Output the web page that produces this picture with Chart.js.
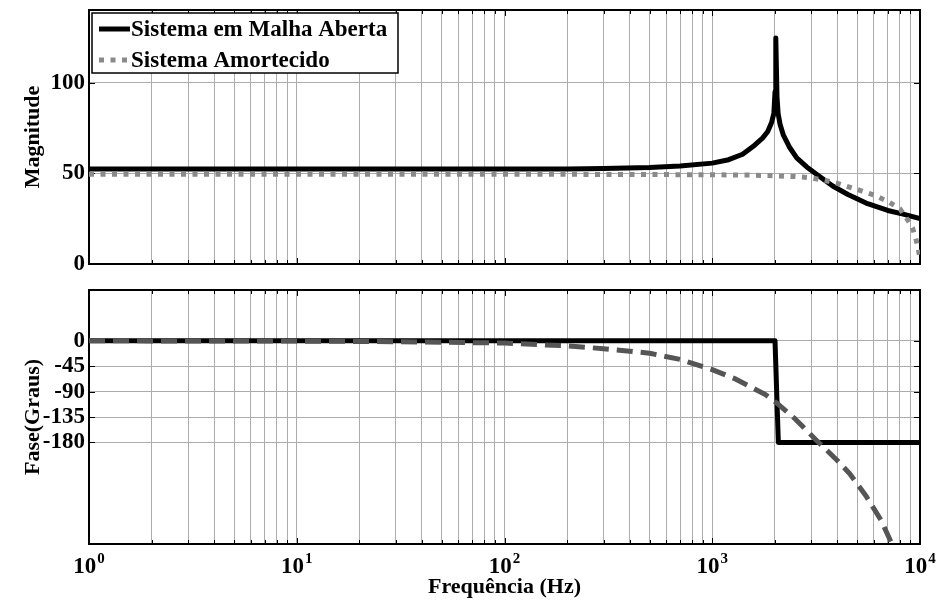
<!DOCTYPE html>
<html>
<head>
<meta charset="utf-8">
<script src="https://cdn.jsdelivr.net/npm/chart.js@4.4.0/dist/chart.umd.min.js"></script>
<style>
  body { margin: 0; background: #fff; }
  canvas { position: absolute; left: 0; }
  #mag { top: 0; }
  #fase { top: 280px; }
</style>
</head>
<body>
<canvas id="mag" width="939" height="276"></canvas>
<canvas id="fase" width="939" height="322"></canvas>
<script>
// magnitude, sistema em malha aberta
const freqMagAberta = [1, 3, 10, 30, 100, 200, 300, 500, 700, 1000, 1200, 1400, 1600, 1750, 1850, 1930, 1980, 2005, 2018, 2027, 2036, 2050, 2075, 2120, 2200, 2350, 2550, 2850, 3200, 3800, 4500, 5500, 7000, 8300, 10000]
const magAberta = [52.4, 52.4, 52.4, 52.3, 52.3, 52.4, 52.6, 53.2, 54.0, 55.6, 57.5, 60.5, 65.5, 69.5, 73, 78, 83, 95, 110, 124.5, 108, 92, 83, 77, 71, 64.5, 58.5, 53.5, 49.2, 43, 38.3, 33.6, 29.5, 27.5, 25]

// magnitude, sistema amortecido
const freqMagAmort = [1, 10, 100, 500, 1000, 1500, 2000, 2500, 3000, 3500, 4000, 5000, 6000, 7000, 8000, 8700, 9200, 9600, 9850, 10000]
const magAmort = [49.5, 49.5, 49.5, 49.3, 49.2, 49, 48.6, 48.2, 47.5, 46, 44.5, 41, 38, 34.5, 30.5, 24.5, 20, 13, 7, 3]

// fase
const freqFaseAberta = [1, 2005, 2080, 10000]
const faseAberta = [0, 0, -180, -180]
const freqFaseAmort = [1, 10, 30, 100, 200, 300, 500, 700, 1000, 1300, 1500, 1800, 2040, 2500, 3170, 4000, 4580, 5500, 6500, 7180, 7500]
const faseAmort = [0, -0.5, -1.5, -4, -9, -14, -22, -33, -51, -68, -80, -95, -110, -138, -176, -212, -235, -275, -318, -353, -368]

const ticksMag = [0, 50, 100]
const ticksFase = [-180, -135, -90, -45, 0]
const decadas = [1, 10, 100, 1000, 10000]

const fonte = "'Liberation Serif', 'Times New Roman', serif"
Chart.defaults.font.family = fonte
Chart.defaults.font.weight = 'bold'
Chart.defaults.color = '#000'

const pontos = (xs, ys) => xs.map((x, i) => ({ x: x, y: ys[i] }))

// linhas de grade em 1..9 x 10^n
const ticksFreq = []
decadas.forEach(d => {
  for (let k = 1; k < 10; k++) if (d * k <= 10000) ticksFreq.push(d * k)
})

// moldura e marcas internas dos eixos
const moldura = {
  id: 'moldura',
  beforeDatasetsDraw(c) {
    const a = c.chartArea, ctx = c.ctx
    ctx.save()
    ctx.strokeStyle = '#000'
    ctx.lineWidth = 1
    ctx.beginPath()
    c.scales.x.ticks.forEach(t => {
      const px = Math.round(c.scales.x.getPixelForValue(t.value)) + 0.5
      const len = decadas.includes(t.value) ? 6 : 4
      ctx.moveTo(px, a.bottom); ctx.lineTo(px, a.bottom - len)
      ctx.moveTo(px, a.top); ctx.lineTo(px, a.top + len)
    })
    c.scales.y.ticks.forEach(t => {
      const py = Math.round(c.scales.y.getPixelForValue(t.value)) + 0.5
      ctx.moveTo(a.left, py); ctx.lineTo(a.left + 6, py)
      ctx.moveTo(a.right, py); ctx.lineTo(a.right - 6, py)
    })
    ctx.stroke()
    ctx.lineWidth = 2
    ctx.strokeRect(a.left, a.top, a.right - a.left, a.bottom - a.top)
    ctx.restore()
  }
}

// rotulos 10^n com expoente elevado
const rotulosDecada = {
  id: 'rotulosDecada',
  afterDraw(c) {
    const ctx = c.ctx, x = c.scales.x
    const base = c.chartArea.bottom + 29
    ctx.save()
    ctx.fillStyle = '#000'
    ctx.textBaseline = 'alphabetic'
    ctx.textAlign = 'left'
    decadas.forEach((v, i) => {
      const px = x.getPixelForValue(v)
      ctx.font = 'bold 23px ' + fonte
      const w1 = ctx.measureText('10').width
      ctx.font = 'bold 15px ' + fonte
      const w2 = ctx.measureText(String(i)).width
      const x0 = px - (w1 + w2 + 1) / 2
      ctx.font = 'bold 23px ' + fonte
      ctx.fillText('10', x0, base)
      ctx.font = 'bold 15px ' + fonte
      ctx.fillText(String(i), x0 + w1 + 1, base - 10)
    })
    ctx.restore()
  }
}

// legenda dentro da area do grafico
const legenda = {
  id: 'legenda',
  afterDraw(c) {
    const ctx = c.ctx
    const x0 = 92, y0 = 13, w = 306, h = 60
    ctx.save()
    ctx.fillStyle = '#fff'
    ctx.fillRect(x0, y0, w, h)
    ctx.strokeStyle = '#000'
    ctx.lineWidth = 1.5
    ctx.strokeRect(x0, y0, w, h)
    ctx.font = 'bold 23px ' + fonte
    ctx.textBaseline = 'middle'
    c.data.datasets.forEach((ds, i) => {
      const y = y0 + 16 + i * 31
      ctx.strokeStyle = ds.borderColor
      ctx.lineWidth = ds.borderWidth
      ctx.setLineDash(ds.borderDash || [])
      ctx.beginPath()
      ctx.moveTo(x0 + 7, y)
      ctx.lineTo(x0 + 38, y)
      ctx.stroke()
      ctx.setLineDash([])
      ctx.fillStyle = '#000'
      ctx.fillText(ds.label, x0 + 39, y + 1)
    })
    ctx.restore()
  }
}

const eixoX = (comRotulos) => ({
  type: 'logarithmic',
  min: 1,
  max: 10000,
  afterBuildTicks: s => { s.ticks = ticksFreq.map(v => ({ value: v })) },
  afterFit: s => {
    s.height = comRotulos ? 58 : 0
    s.paddingLeft = 0
    s.paddingRight = 0
  },
  ticks: { display: false, autoSkip: false },
  grid: { color: '#acacac', lineWidth: 1, drawTicks: false },
  border: { display: false },
  title: {
    display: comRotulos,
    text: 'Frequência (Hz)',
    font: { size: 22, weight: 'bold' },
    padding: { top: 0, bottom: 1 }
  }
})

const eixoY = (min, max, ticks, titulo) => ({
  min: min,
  max: max,
  afterBuildTicks: s => { s.ticks = ticks.map(v => ({ value: v })) },
  afterFit: s => {
    s.width = 89
    s.paddingTop = 0
    s.paddingBottom = 0
  },
  ticks: { padding: 4, font: { size: 23, weight: 'bold' } },
  grid: { color: '#acacac', lineWidth: 1, drawTicks: false },
  border: { display: false },
  title: {
    display: true,
    text: titulo,
    font: { size: 22, weight: 'bold' },
    padding: { top: 20, bottom: 0 }
  }
})

const opcoes = (padBottom, yScale, comRotulos) => ({
  responsive: false,
  animation: false,
  layout: { padding: { left: 0, right: 19, top: 10, bottom: padBottom } },
  plugins: { legend: { display: false }, tooltip: { enabled: false } },
  elements: { point: { radius: 0 }, line: { tension: 0, borderJoinStyle: 'round', borderCapStyle: 'butt' } },
  scales: { x: eixoX(comRotulos), y: yScale }
})

new Chart(document.getElementById('mag'), {
  type: 'line',
  data: {
    datasets: [
      { label: 'Sistema em Malha Aberta', data: pontos(freqMagAberta, magAberta), borderColor: '#000', borderWidth: 5, order: 1 },
      { label: 'Sistema Amortecido', data: pontos(freqMagAmort, magAmort), borderColor: '#8a8a8a', borderWidth: 5, borderDash: [5, 6.5], order: 0 }
    ]
  },
  options: opcoes(12, eixoY(0, 140, ticksMag, 'Magnitude'), false),
  plugins: [moldura, legenda]
})

new Chart(document.getElementById('fase'), {
  type: 'line',
  data: {
    datasets: [
      { label: 'Sistema em Malha Aberta', data: pontos(freqFaseAberta, faseAberta), borderColor: '#000', borderWidth: 5, order: 1 },
      { label: 'Sistema Amortecido', data: pontos(freqFaseAmort, faseAmort), borderColor: '#555', borderWidth: 5, borderDash: [16, 8], order: 0 }
    ]
  },
  options: opcoes(0, eixoY(-360, 90, ticksFase, 'Fase(Graus)'), true),
  plugins: [moldura, rotulosDecada]
})
</script>
</body>
</html>
